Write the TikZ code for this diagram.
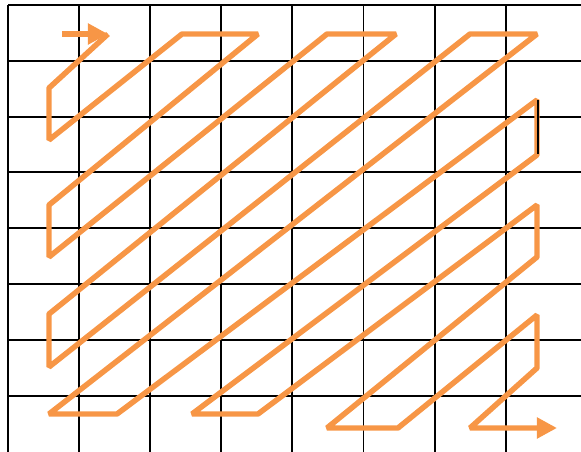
\documentclass[tikz,border=0pt]{standalone}
\usetikzlibrary{arrows.meta}
\definecolor{zigorange}{HTML}{F79646}
\begin{document}
\begin{tikzpicture}[
		x=0.025cm, y=-0.025cm,
		>={Triangle[length=0.5cm, width=0.5cm]},
		gridline/.style={draw=black, line width=1.4pt},
		zigzag/.style={draw=zigorange, line width=3.9pt, line join=bevel}
	]
		\useasboundingbox (0,0) rectangle (581,452);
		\def\cw{71.1}
		\def\ch{55.8}
		\foreach \i in {0,...,7} {
			\draw[gridline] ({8+\cw*\i}, 5) -- ({8+\cw*\i}, 452);
		}
		\foreach \j in {0,...,7} {
			\draw[gridline] (8, {5+\ch*\j}) -- (581, {5+\ch*\j});
		}
		\draw[zigzag, ->] (62,34) -- (108,34);
		\draw[zigzag, ->] (108,34) -- (49,88) -- (49,140) -- (182,34) -- (258,34)
			-- (49,205) -- (49,257) -- (327,34) -- (396,34)
			-- (49,314) -- (49,367) -- (470,34) -- (537,34)
			-- (49,414) -- (117,414) -- (537,100) -- (537,155)
			-- (192,414) -- (258,414) -- (537,205) -- (537,257)
			-- (327,428) -- (398,428) -- (537,315) -- (537,368)
			-- (470,428) -- (557,428);
		\draw[black, line width=1pt] (538,100) -- (538,154);
	\end{tikzpicture}
\end{document}
